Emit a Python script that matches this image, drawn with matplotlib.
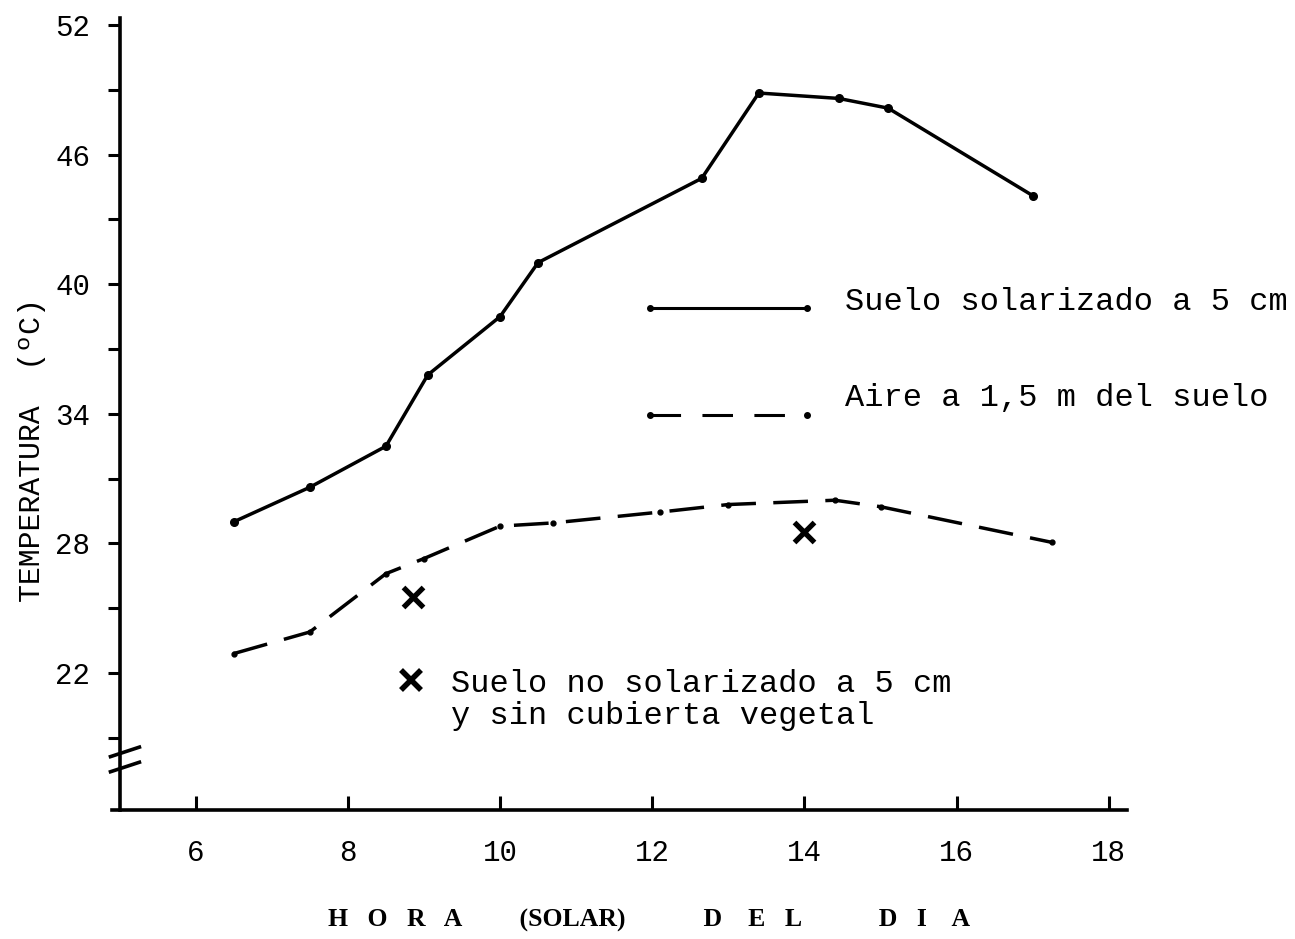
import matplotlib
matplotlib.use("Agg")
import matplotlib.pyplot as plt
from matplotlib.ticker import FixedLocator

# ---- data ----
hours_soil = [6.5, 7.5, 8.5, 9.05, 10.0, 10.5, 12.65, 13.4, 14.45, 15.1, 17.0]
temp_soil = [29.0, 30.6, 32.5, 35.8, 38.5, 41.0, 44.9, 48.85, 48.6, 48.15, 44.1]

hours_air = [6.5, 7.5, 8.5, 9.0, 10.0, 10.7, 12.1, 13.0, 14.4, 15.0, 17.25]
temp_air = [22.9, 23.9, 26.6, 27.3, 28.8, 28.95, 29.45, 29.8, 30.0, 29.7, 28.05]

hours_bare = [8.85, 14.0]
temp_bare = [25.5, 28.55]

xticks = [6, 8, 10, 12, 14, 16, 18]
yticks_major = [22, 28, 34, 40, 46, 52]
yticks_minor = [19, 25, 31, 37, 43, 49]

label_soil = "Suelo solarizado a 5 cm"
label_air = "Aire a 1,5 m del suelo"
label_bare = ["Suelo no solarizado a 5 cm", "y sin cubierta vegetal"]
ylabel = "TEMPERATURA  (ºC)"
xlabel = ("H   O   R   A         (SOLAR)            D    E   L"
          "            D   I    A")

# ---- figure ----
fig = plt.figure(figsize=(12.95, 9.39), dpi=100)
ax = fig.add_axes([0.0865, 0.1374, 0.7838, 0.8429])
ax.set_xlim(4.9, 18.24)
ax.set_ylim(15.66, 52.3)

for s in ["top", "right"]:
    ax.spines[s].set_visible(False)
ax.spines["left"].set_position(("data", 5.0))
ax.spines["left"].set_linewidth(2.6)
ax.spines["bottom"].set_linewidth(2.6)

mono = "Liberation Mono"
ax.xaxis.set_major_locator(FixedLocator(xticks))
ax.yaxis.set_major_locator(FixedLocator(yticks_major))
ax.yaxis.set_minor_locator(FixedLocator(yticks_minor))
ax.tick_params(axis="x", direction="in", length=10, width=2.2, pad=21,
               labelsize=21)
ax.tick_params(axis="y", which="both", direction="out", length=9, width=2.2,
               pad=12, labelsize=21)
for lab in ax.get_xticklabels() + ax.get_yticklabels():
    lab.set_family(mono)

# series
ax.plot(hours_soil, temp_soil, color="black", lw=2.5, marker="o", ms=5.5,
        solid_capstyle="round")
ax.plot(hours_air, temp_air, color="black", lw=2.5, dashes=(10, 5),
        marker="o", ms=3.5)
ax.plot(hours_bare, temp_bare, linestyle="none", marker="x", color="black",
        ms=14, mew=3.8)

# legend-like annotations
ax.plot([11.97, 14.04], [38.9, 38.9], color="black", lw=2.2, marker="o", ms=4)
ax.text(14.53, 38.8, label_soil, family=mono, fontsize=23, va="baseline")
ax.plot([11.97, 14.04], [33.95, 33.95], color="black", lw=2.2,
        dashes=(10, 7), marker="o", ms=4)
ax.text(14.53, 34.35, label_air, family=mono, fontsize=23, va="baseline")
ax.plot([8.83], [21.7], linestyle="none", marker="x", color="black", ms=14,
        mew=4)
ax.text(9.35, 21.1, label_bare[0], family=mono, fontsize=23, va="baseline")
ax.text(9.35, 19.65, label_bare[1], family=mono, fontsize=23, va="baseline")

# axis break marks
for yb in (18.35, 17.65):
    ax.plot([4.88, 5.26], [yb - 0.22, yb + 0.22], color="black", lw=2.6,
            clip_on=False)

# labels
fig.text(0.025, 0.521, ylabel, rotation=90, family=mono,
         fontsize=21.5, ha="center", va="center")
fig.text(328 / 1295, 0.0128, xlabel, family="Liberation Serif",
         fontweight="bold", fontsize=18.5, ha="left", va="baseline")

fig.savefig("out.png", dpi=100, facecolor="white")
